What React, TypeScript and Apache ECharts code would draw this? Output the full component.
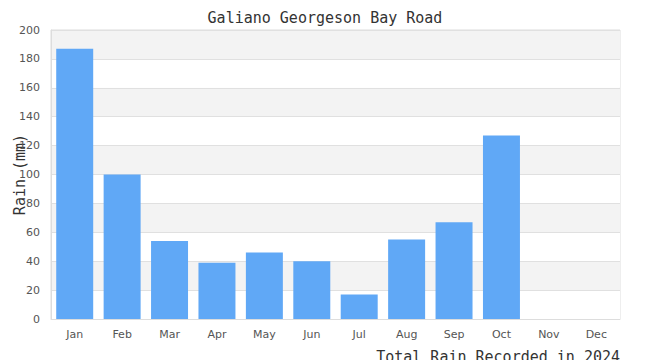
import React, { useEffect, useRef } from "react";
import * as echarts from "echarts";

const categories = ["Jan", "Feb", "Mar", "Apr", "May", "Jun", "Jul", "Aug", "Sep", "Oct", "Nov", "Dec"];
const rainValues = [187, 100, 54, 39, 46, 40, 17, 55, 67, 127, 0, 0];
const chartTitle = "Galiano Georgeson Bay Road";
const footerText = "Total Rain Recorded in 2024";
const yAxisName = "Rain (mm)";

export default function App() {
  const ref = useRef<HTMLDivElement>(null);
  useEffect(() => {
    if (!ref.current) return;
    const chart = echarts.init(ref.current, undefined, { renderer: "svg" });
    chart.setOption({
      animation: false,
      backgroundColor: "#ffffff",
      title: {
        text: chartTitle,
        left: "center",
        top: 5,
        textStyle: { fontFamily: "DejaVu Sans Mono", fontSize: 15, fontWeight: "normal", color: "#333" },
      },
      graphic: [
        {
          type: "text",
          right: 30,
          bottom: -4,
          style: {
            text: footerText,
            fontFamily: "DejaVu Sans Mono",
            fontSize: 15,
            fill: "#333",
          },
        },
      ],
      grid: {
        left: 51, right: 30, top: 30, bottom: 41,
        containLabel: false,
        outerBoundsMode: "none",
        show: true, borderColor: "#ddd", borderWidth: 1, backgroundColor: "transparent",
      },
      xAxis: {
        type: "category",
        data: categories,
        axisLine: { show: true, lineStyle: { color: "#ddd" } },
        axisTick: { show: false },
        axisLabel: { color: "#555", fontSize: 11, fontFamily: "DejaVu Sans", margin: 10 },
      },
      yAxis: {
        type: "value",
        min: 0,
        max: 200,
        interval: 20,
        name: yAxisName,
        nameLocation: "middle",
        nameGap: 24,
        nameMoveOverlap: false,
        nameTextStyle: { fontFamily: "DejaVu Sans Mono", fontSize: 15, color: "#333" },
        axisLine: { show: true, lineStyle: { color: "#ddd" } },
        axisTick: { show: false },
        axisLabel: { color: "#555", fontSize: 11, fontFamily: "DejaVu Sans", margin: 11 },
        splitLine: { show: true, lineStyle: { color: "#e0e0e0" } },
        splitArea: { show: true, areaStyle: { color: ["#ffffff", "#f3f3f3"] } },
      },
      series: [
        {
          type: "bar",
          data: rainValues,
          barCategoryGap: "22%",
          itemStyle: { color: "#60a8f6" },
        },
      ],
    });
    return () => chart.dispose();
  }, []);
  return <div ref={ref} style={{ width: 650, height: 360, position: "absolute", left: 0, top: 0 }} />;
}
